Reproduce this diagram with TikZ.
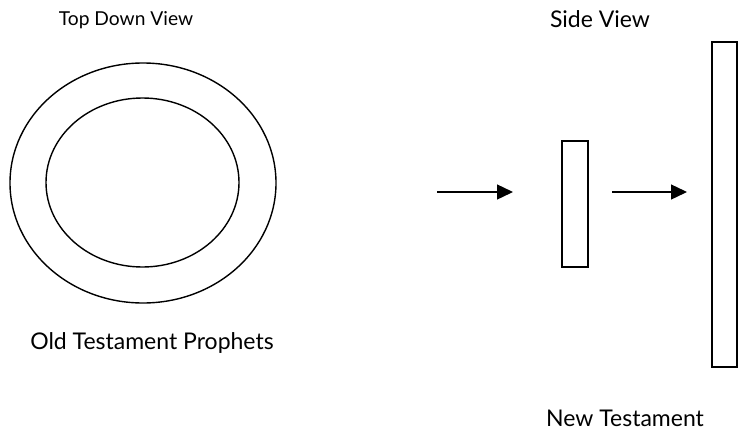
\documentclass[tikz,border=0pt]{standalone}
\usepackage{fontspec}
\setmainfont{Lato}
\usetikzlibrary{arrows.meta,shapes.geometric}

\begin{document}
\begin{tikzpicture}[x=0.5pt,y=-0.5pt,line width=.7pt,
  ring/.style={ellipse,draw,inner sep=0},
  slab/.style={rectangle,draw,inner sep=0},
  push/.style={-{Triangle[length=8pt,width=7.5pt]}},
  caption/.style={font=\fontsize{11.5}{13}\selectfont,inner sep=0}]
  \useasboundingbox (0,0) rectangle (739,429);
  % top down view
  \node[ring,minimum width=266pt*0.5,minimum height=240pt*0.5] (outer) at (143,183) {};
  \node[ring,minimum width=193pt*0.5,minimum height=169pt*0.5] (inner) at (142.5,182.5) {};
  \node[caption,font=\fontsize{9.6}{11}\selectfont] (topview) at (126,20) {Top Down View};
  \node[caption] (otp) at (152,343) {Old Testament Prophets};
  % side view
  \node[slab,minimum width=13pt,minimum height=63pt] (prophets) at (575,204) {};
  \node[slab,minimum width=12.5pt,minimum height=162.5pt] (nt) at (724.5,204.5) {};
  \node[caption] (sideview) at (600,19) {Side View};
  \node[caption] (ntlabel) at (625,418) {New Testament};
  \coordinate (start) at (437,192);
  \coordinate (hit) at (513,192);
  \coordinate (relay) at (612,192);
  \coordinate (land) at (687,192);
  \draw[push] (start) -- (hit);
  \draw[push] (relay) -- (land);
\end{tikzpicture}
\end{document}
